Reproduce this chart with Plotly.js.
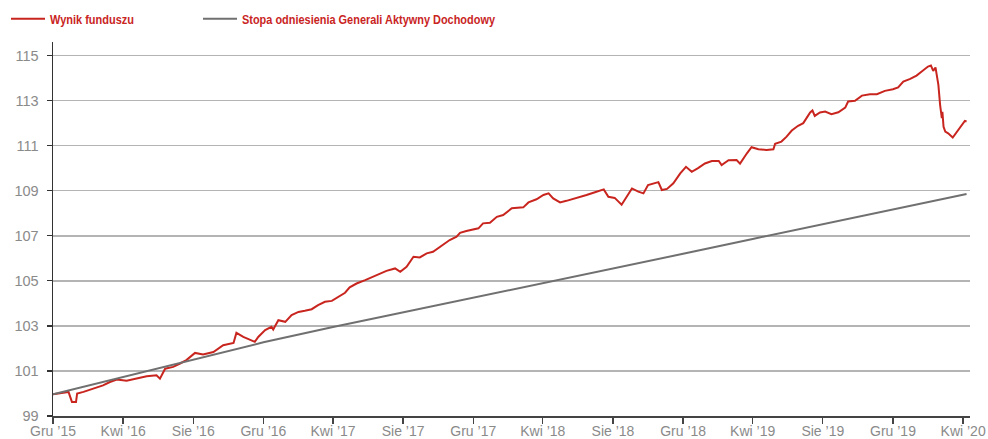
<!DOCTYPE html>
<html>
<head>
<meta charset="utf-8">
<script src="https://cdn.plot.ly/plotly-3.0.1.min.js"></script>
<style>
  html, body { margin: 0; padding: 0; background: #fff; }
  #chart { width: 988px; height: 439px; }
</style>
</head>
<body>
<div id="chart"></div>
<script>
// ---- Data ----
const seriesNames = ["Wynik funduszu", "Stopa odniesienia Generali Aktywny Dochodowy"];

const fundDates = [
  "2015-12-01","2015-12-15","2015-12-28","2016-01-01","2016-01-03","2016-01-10","2016-01-12","2016-01-23",
  "2016-02-03","2016-02-15","2016-02-26","2016-03-09","2016-03-21","2016-04-07","2016-04-24","2016-05-12",
  "2016-05-29","2016-06-04","2016-06-13","2016-06-27","2016-07-09","2016-07-20","2016-08-04","2016-08-18",
  "2016-09-05","2016-09-22","2016-10-10","2016-10-15","2016-10-27","2016-11-08","2016-11-16","2016-11-22",
  "2016-12-04","2016-12-15","2016-12-18","2016-12-27","2017-01-08","2017-01-19","2017-01-31","2017-02-11",
  "2017-02-23","2017-03-06","2017-03-18","2017-03-30","2017-04-10","2017-04-22","2017-04-30","2017-05-12",
  "2017-05-27","2017-06-10","2017-06-22","2017-07-03","2017-07-18","2017-07-27","2017-08-07","2017-08-19",
  "2017-08-30","2017-09-11","2017-09-22","2017-10-04","2017-10-10","2017-10-21","2017-11-02","2017-11-08",
  "2017-11-19","2017-12-01","2017-12-10","2017-12-18","2017-12-30","2018-01-11","2018-01-22","2018-02-06",
  "2018-02-17","2018-02-26","2018-03-07","2018-03-21","2018-04-02","2018-04-11","2018-04-19","2018-05-01",
  "2018-05-12","2018-05-24","2018-06-05","2018-06-16","2018-06-28","2018-07-09","2018-07-16","2018-07-24",
  "2018-08-04","2018-08-16","2018-08-25","2018-09-03","2018-09-14","2018-09-23","2018-10-01","2018-10-19",
  "2018-10-25","2018-11-03","2018-11-14","2018-11-26","2018-12-06","2018-12-16","2018-12-27","2019-01-08",
  "2019-01-20","2019-02-01","2019-02-06","2019-02-18","2019-03-04","2019-03-10","2019-03-22","2019-03-30",
  "2019-04-11","2019-04-25","2019-05-07","2019-05-10","2019-05-21","2019-05-30","2019-06-08","2019-06-19",
  "2019-06-28","2019-07-10","2019-07-14","2019-07-18","2019-07-27","2019-08-05","2019-08-16","2019-08-28",
  "2019-09-09","2019-09-14","2019-09-26","2019-10-08","2019-10-22","2019-11-03","2019-11-17","2019-12-01",
  "2019-12-10","2019-12-19","2019-12-31","2020-01-11","2020-01-20","2020-01-31","2020-02-05","2020-02-09",
  "2020-02-13","2020-02-18","2020-02-21","2020-02-24","2020-02-25","2020-02-27","2020-03-01","2020-03-06",
  "2020-03-14","2020-03-21","2020-03-30","2020-04-04","2020-04-07"
];
const fundValues = [
  99.96,100.02,100.07,99.77,99.62,99.62,100.00,100.07,
  100.17,100.26,100.36,100.51,100.62,100.56,100.66,100.76,
  100.81,100.66,101.10,101.18,101.33,101.48,101.80,101.73,
  101.84,102.14,102.24,102.69,102.51,102.36,102.29,102.51,
  102.81,102.96,102.84,103.25,103.18,103.48,103.62,103.67,
  103.74,103.92,104.07,104.11,104.29,104.47,104.71,104.88,
  105.03,105.18,105.33,105.44,105.55,105.40,105.62,106.07,
  106.04,106.22,106.29,106.51,106.63,106.81,106.96,107.13,
  107.21,107.28,107.33,107.55,107.58,107.84,107.92,108.22,
  108.26,108.26,108.48,108.62,108.81,108.88,108.66,108.48,
  108.55,108.63,108.73,108.81,108.91,109.00,109.06,108.73,
  108.68,108.38,108.73,109.10,108.96,108.88,109.25,109.38,
  109.03,109.08,109.33,109.77,110.06,109.84,110.00,110.21,
  110.32,110.32,110.14,110.35,110.36,110.20,110.66,110.93,
  110.84,110.81,110.84,111.08,111.18,111.40,111.67,111.88,
  112.00,112.47,112.56,112.32,112.47,112.51,112.40,112.48,
  112.69,112.96,112.99,113.22,113.28,113.28,113.43,113.50,
  113.58,113.84,113.96,114.11,114.29,114.51,114.56,114.32,
  114.47,113.70,112.81,112.22,112.50,111.84,111.62,111.55,
  111.36,111.62,111.92,112.10,112.07
];

const benchDates = [
  "2015-12-01","2016-04-01","2016-08-01","2016-12-01","2017-04-01","2017-08-01","2017-12-01",
  "2018-04-01","2018-08-01","2018-12-01","2019-04-01","2019-08-01","2019-12-01","2020-04-01","2020-04-07"
];
const benchValues = [
  99.96,100.72,101.50,102.27,102.95,103.60,104.23,
  104.88,105.54,106.20,106.86,107.52,108.17,108.83,108.85
];

const xTickVals = [
  "2015-12-01","2016-04-01","2016-08-01","2016-12-01","2017-04-01","2017-08-01","2017-12-01",
  "2018-04-01","2018-08-01","2018-12-01","2019-04-01","2019-08-01","2019-12-01","2020-04-01"
];
const xTickText = [
  "Gru ’15","Kwi ’16","Sie ’16","Gru ’16","Kwi ’17","Sie ’17","Gru ’17",
  "Kwi ’18","Sie ’18","Gru ’18","Kwi ’19","Sie ’19","Gru ’19","Kwi ’20"
];
const yTickVals = [99, 101, 103, 105, 107, 109, 111, 113, 115];

// ---- Chart ----
const RED = "#c9251f";
const GRAY = "#707070";
const tickFont = { family: "Liberation Sans, Arial, Helvetica, sans-serif", size: 14, color: "#8a8a8a" };
const legendFont = { family: "Liberation Sans, Arial, sans-serif", size: 13.5, color: RED, weight: "bold" };

const traces = [
  {
    type: "scatter", mode: "lines", name: seriesNames[0],
    x: fundDates, y: fundValues,
    line: { color: RED, width: 2 },
    legend: "legend",
    hoverinfo: "x+y"
  },
  {
    type: "scatter", mode: "lines", name: seriesNames[1],
    x: benchDates, y: benchValues,
    line: { color: GRAY, width: 2 },
    legend: "legend2",
    hoverinfo: "x+y"
  }
];

const legendCommon = {
  orientation: "h",
  xref: "container", yref: "container",
  xanchor: "left", yanchor: "middle",
  y: 1 - 19 / 439,
  font: legendFont,
  itemwidth: 34,
  bgcolor: "rgba(0,0,0,0)",
  borderwidth: 0
};

const layout = {
  width: 988, height: 439,
  margin: { l: 53, r: 18, t: 42, b: 23, autoexpand: false },
  paper_bgcolor: "#ffffff", plot_bgcolor: "#ffffff",
  showlegend: true,
  legend: Object.assign({}, legendCommon, { x: 6 / 988 }),
  legend2: Object.assign({}, legendCommon, { x: 198 / 988 }),
  xaxis: {
    type: "date",
    range: ["2015-12-01", "2020-04-13"],
    tickmode: "array", tickvals: xTickVals, ticktext: xTickText,
    showgrid: false, zeroline: false,
    showline: true, linecolor: "#444", linewidth: 1.5,
    ticks: "outside", ticklen: 6, tickwidth: 1.3, tickcolor: "#444",
    ticklabelstandoff: -4,
    tickfont: tickFont,
    automargin: false
  },
  yaxis: {
    range: [99, 115.6],
    tickmode: "array", tickvals: yTickVals,
    showgrid: true, gridcolor: "#b4b4b4", gridwidth: 1.5,
    zeroline: false,
    showline: true, linecolor: "#333", linewidth: 1.5,
    ticks: "outside", ticklen: 5, tickwidth: 1.3, tickcolor: "#333",
    ticklabelstandoff: 5,
    tickfont: { family: tickFont.family, size: 14.5, color: tickFont.color },
    automargin: false
  }
};

// Target widths (px) of the narrow bold legend labels in the reference
const legendTextWidths = [84, 253];

function condenseLegend() {
  const root = document.getElementById("chart");
  const texts = root.querySelectorAll("text");
  for (let i = 0; i < texts.length; i++) {
    const t = texts[i];
    const content = (t.textContent || "").replace(/\s+/g, " ").trim();
    let w = null;
    if (content.indexOf("Stopa odniesienia") === 0) w = legendTextWidths[1];
    else if (content.indexOf("Wynik funduszu") === 0) w = legendTextWidths[0];
    if (w === null) continue;
    if (t.getAttribute("textLength") !== String(w)) {
      t.setAttribute("textLength", String(w));
      t.setAttribute("lengthAdjust", "spacingAndGlyphs");
    }
  }
}

const gdEl = document.getElementById("chart");
const observer = new MutationObserver(function () { condenseLegend(); });
observer.observe(gdEl, { childList: true, subtree: true, characterData: true });

Plotly.newPlot(gdEl, traces, layout, { displayModeBar: false, staticPlot: true }).then(function (gd) {
  condenseLegend();
  gd.on("plotly_afterplot", condenseLegend);
  requestAnimationFrame(condenseLegend);
  setTimeout(condenseLegend, 0);
  setTimeout(condenseLegend, 100);
});
condenseLegend();
</script>
</body>
</html>
